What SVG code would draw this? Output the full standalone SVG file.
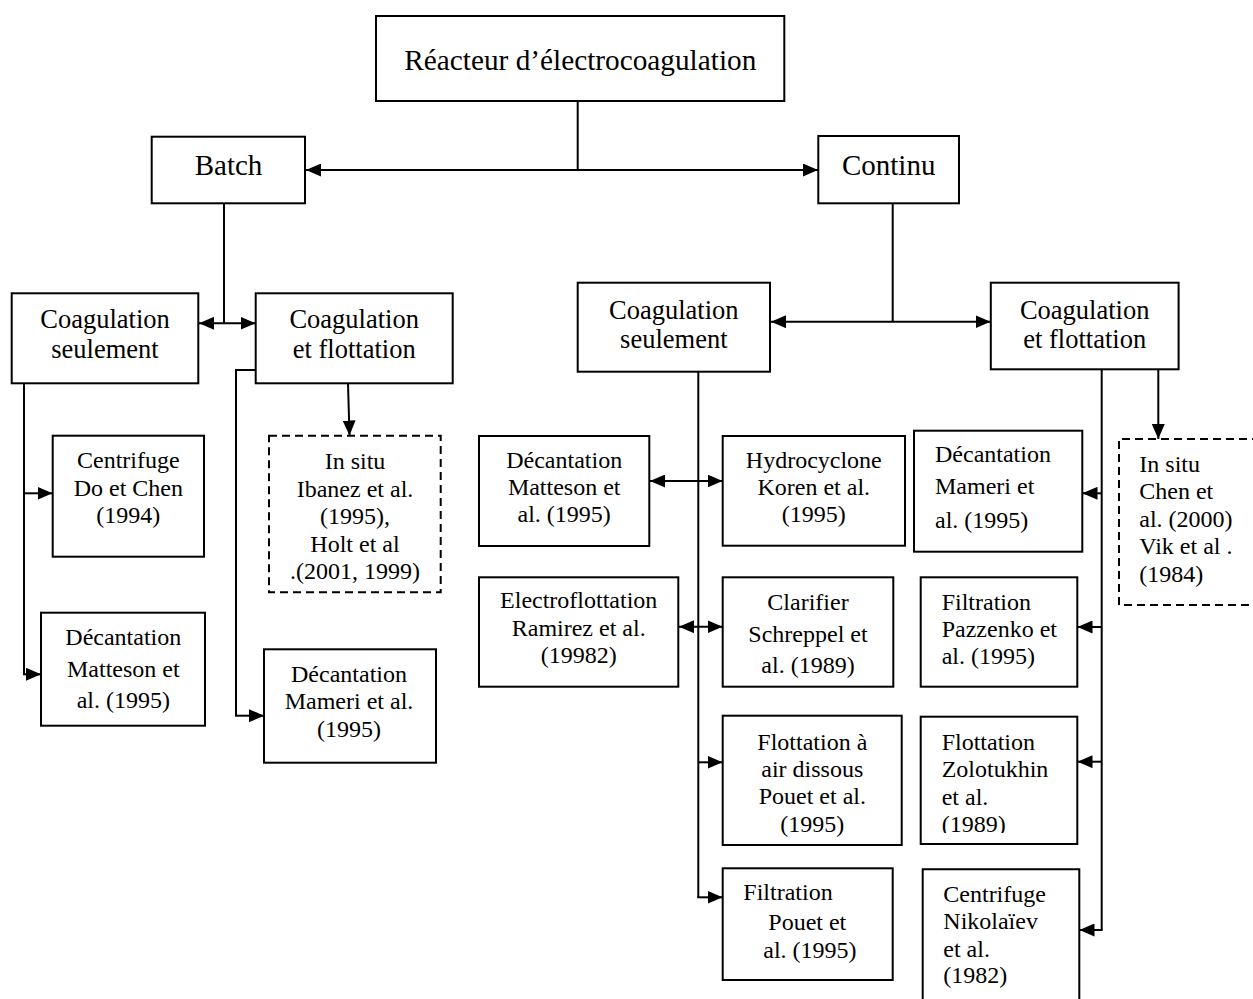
<svg xmlns="http://www.w3.org/2000/svg" width="1253" height="999" viewBox="0 0 1253 999">
<style>
text{font-family:"Liberation Serif","Times New Roman",serif;fill:#000}
.t{font-size:29px;text-anchor:middle}
.c{font-size:26.5px;text-anchor:middle}
.l{font-size:24px;text-anchor:middle}
.s{font-size:24px;text-anchor:start}
.box{fill:#fff;stroke:#000;stroke-width:2}
.dash{fill:#fff;stroke:#000;stroke-width:2;stroke-dasharray:8 5}
.ln{fill:none;stroke:#000;stroke-width:2}
.ar{fill:none;stroke:#000;stroke-width:2;marker-end:url(#ah)}
.dar{fill:none;stroke:#000;stroke-width:2;marker-start:url(#ah);marker-end:url(#ah)}
</style>
<defs>
<marker id="ah" markerUnits="userSpaceOnUse" markerWidth="15" markerHeight="13" refX="15" refY="6.5" orient="auto-start-reverse">
<path d="M0,0 L15,6.5 L0,13 z" fill="#000"/>
</marker>
<clipPath id="clipZ"><rect x="920" y="716" width="160" height="117"/></clipPath>
</defs>
<rect width="1253" height="999" fill="#fff"/>

<g id="connectors">
<path class="ln" d="M577.7,101 V170"/>
<path class="dar" d="M306,170 H818"/>
<path class="ln" d="M224,204 V323.3"/>
<path class="dar" d="M199,323.3 H255.5"/>
<path class="ln" d="M892.7,203.5 V321.7"/>
<path class="dar" d="M771,321.7 H990.5"/>
<path class="ln" d="M24,383.5 V674.3"/>
<path class="ar" d="M24,493.3 H52.5"/>
<path class="ar" d="M23,674.3 H41"/>
<path class="ln" d="M256,370 H236 V715.7"/>
<path class="ar" d="M235,715.7 H264"/>
<path class="ar" d="M348,383.5 L349.5,435.5"/>
<path class="ln" d="M698.3,372.3 V898"/>
<path class="dar" d="M650,481 H722.5"/>
<path class="dar" d="M679,626.7 H722.5"/>
<path class="ar" d="M698.3,762.3 H722.5"/>
<path class="ar" d="M697.3,897.3 H722.5"/>
<path class="ln" d="M1101.7,370 V930"/>
<path class="ar" d="M1101.7,493.3 H1082.5"/>
<path class="ar" d="M1101.7,627 H1077.5"/>
<path class="ar" d="M1101.7,761.7 H1077.5"/>
<path class="ar" d="M1102.7,930 H1079.5"/>
<path class="ar" d="M1158.3,369.5 V439"/>
</g>

<g id="n-reacteur">
<rect class="box" x="376" y="16" width="408.3" height="85"/>
<text class="t" x="580.3" y="70" font-size="32" textLength="352" lengthAdjust="spacingAndGlyphs">Réacteur d’électrocoagulation</text>
</g>
<g id="n-batch">
<rect class="box" x="151.7" y="136.7" width="153.3" height="66.6"/>
<text class="t" x="228.5" y="175">Batch</text>
</g>
<g id="n-continu">
<rect class="box" x="818.3" y="136" width="140.7" height="67.3"/>
<text class="t" x="888.7" y="175">Continu</text>
</g>

<g id="n-batch-coag-seul">
<rect class="box" x="11.7" y="293.3" width="186.6" height="90"/>
<text class="c" x="105" y="328.3">Coagulation</text>
<text class="c" x="105" y="358.3">seulement</text>
</g>
<g id="n-batch-coag-flot">
<rect class="box" x="255.7" y="293.3" width="197" height="90"/>
<text class="c" x="354.2" y="328.3">Coagulation</text>
<text class="c" x="354.2" y="358.3">et flottation</text>
</g>
<g id="n-cont-coag-seul">
<rect class="box" x="577.7" y="282.7" width="192.3" height="89"/>
<text class="c" x="673.8" y="318.5">Coagulation</text>
<text class="c" x="673.8" y="348">seulement</text>
</g>
<g id="n-cont-coag-flot">
<rect class="box" x="990.8" y="282.7" width="187.8" height="86.6"/>
<text class="c" x="1084.7" y="318.5">Coagulation</text>
<text class="c" x="1084.7" y="348">et flottation</text>
</g>

<g id="n-centrifuge-do">
<rect class="box" x="52.7" y="435.7" width="151.3" height="121"/>
<text class="l" x="128.3" y="468">Centrifuge</text>
<text class="l" x="128.3" y="496">Do et Chen</text>
<text class="l" x="128.3" y="523">(1994)</text>
</g>
<g id="n-decant-matteson-l">
<rect class="box" x="41" y="612.7" width="164" height="113"/>
<text class="l" x="123.3" y="645">Décantation</text>
<text class="l" x="123.3" y="676.7">Matteson et</text>
<text class="l" x="123.3" y="708.3">al. (1995)</text>
</g>
<g id="n-insitu-ibanez">
<rect class="dash" x="269" y="435.7" width="171.7" height="156.6"/>
<text class="l" x="355" y="469.3">In situ</text>
<text class="l" x="355" y="496.7">Ibanez et al.</text>
<text class="l" x="355" y="524.3">(1995),</text>
<text class="l" x="355" y="551.7">Holt et al</text>
<text class="l" x="355" y="579">.(2001, 1999)</text>
</g>
<g id="n-decant-mameri-l">
<rect class="box" x="264" y="649.3" width="172" height="113.4"/>
<text class="l" x="349" y="681.7">Décantation</text>
<text class="l" x="349" y="709">Mameri et al.</text>
<text class="l" x="349" y="736.7">(1995)</text>
</g>

<g id="n-decant-matteson-c">
<rect class="box" x="479" y="436" width="170.3" height="110"/>
<text class="l" x="564.2" y="468.3">Décantation</text>
<text class="l" x="564.2" y="495">Matteson et</text>
<text class="l" x="564.2" y="521.7">al. (1995)</text>
</g>
<g id="n-hydrocyclone">
<rect class="box" x="722.7" y="436" width="182.3" height="109.7"/>
<text class="l" x="813.8" y="468.3">Hydrocyclone</text>
<text class="l" x="813.8" y="495">Koren et al.</text>
<text class="l" x="813.8" y="521.7">(1995)</text>
</g>
<g id="n-electroflottation">
<rect class="box" x="479" y="577.3" width="199.3" height="109.4"/>
<text class="l" x="578.7" y="608.3">Electroflottation</text>
<text class="l" x="578.7" y="636">Ramirez et al.</text>
<text class="l" x="578.7" y="663.3">(19982)</text>
</g>
<g id="n-clarifier">
<rect class="box" x="722.7" y="577.3" width="170.6" height="109.4"/>
<text class="l" x="808" y="610">Clarifier</text>
<text class="l" x="808" y="641.7">Schreppel et</text>
<text class="l" x="808" y="673.3">al. (1989)</text>
</g>
<g id="n-flottation-air">
<rect class="box" x="722.7" y="715.7" width="179" height="129.3"/>
<text class="l" x="812.3" y="750">Flottation à</text>
<text class="l" x="812.3" y="776.7">air dissous</text>
<text class="l" x="812.3" y="804.3">Pouet et al.</text>
<text class="l" x="812.3" y="831.7">(1995)</text>
</g>
<g id="n-filtration-pouet">
<rect class="box" x="722.7" y="868.3" width="170" height="111.7"/>
<text class="s" x="743.3" y="900">Filtration</text>
<text class="s" x="768.3" y="930">Pouet et</text>
<text class="s" x="763.3" y="958.3">al. (1995)</text>
</g>

<g id="n-decant-mameri-r">
<rect class="box" x="914" y="430.7" width="168.3" height="121"/>
<text class="s" x="935" y="461.7">Décantation</text>
<text class="s" x="935" y="494.3">Mameri et</text>
<text class="s" x="935" y="528.3">al. (1995)</text>
</g>
<g id="n-filtration-pazzenko">
<rect class="box" x="920.7" y="577.3" width="156.6" height="109.4"/>
<text class="s" x="941.7" y="610">Filtration</text>
<text class="s" x="941.7" y="636.7">Pazzenko et</text>
<text class="s" x="941.7" y="664">al. (1995)</text>
</g>
<g id="n-flottation-zolotukhin">
<rect class="box" x="920.7" y="716.7" width="156.6" height="127.3"/>
<g clip-path="url(#clipZ)">
<text class="s" x="941.7" y="750">Flottation</text>
<text class="s" x="941.7" y="776.7">Zolotukhin</text>
<text class="s" x="941.7" y="805">et al.</text>
<text class="s" x="941.7" y="831.7">(1989)</text>
</g>
</g>
<g id="n-centrifuge-nikolaiev">
<path class="ln" d="M922.7,1000 V869.3 H1079.3 V1000"/>
<text class="s" x="943.3" y="901.7">Centrifuge</text>
<text class="s" x="943.3" y="929.3">Nikolaïev</text>
<text class="s" x="943.3" y="956.7">et al.</text>
<text class="s" x="943.3" y="983.3">(1982)</text>
</g>
<g id="n-insitu-chen">
<path class="dash" d="M1260,439 H1119 V605 H1260"/>
<text class="s" x="1139.3" y="471.7">In situ</text>
<text class="s" x="1139.3" y="499.3">Chen et</text>
<text class="s" x="1139.3" y="526.7">al. (2000)</text>
<text class="s" x="1139.3" y="554.3">Vik et al .</text>
<text class="s" x="1139.3" y="581.7">(1984)</text>
</g>
</svg>
